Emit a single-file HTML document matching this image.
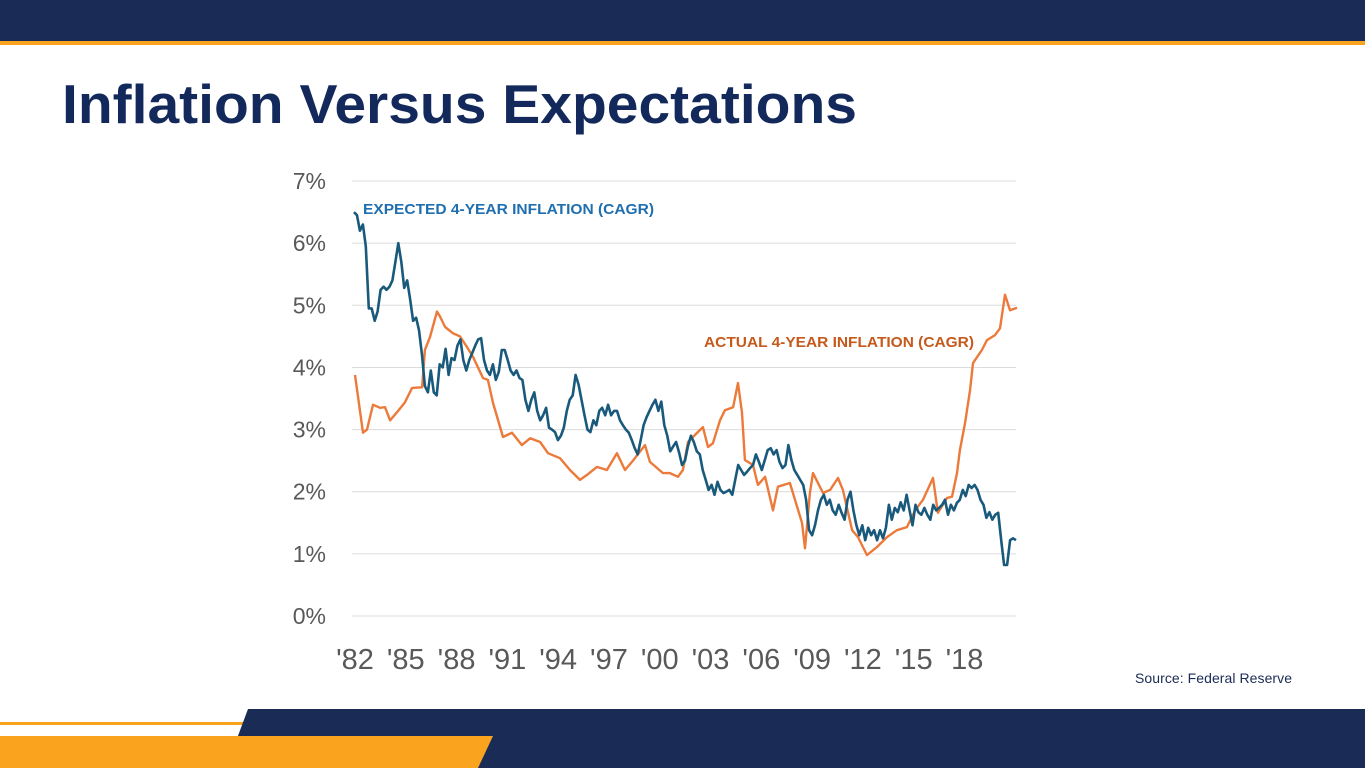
<!DOCTYPE html>
<html><head><meta charset="utf-8"><style>
html,body{margin:0;padding:0;width:1365px;height:768px;overflow:hidden;background:#fff;font-family:"Liberation Sans",sans-serif}
</style></head><body>
<svg width="1365" height="768" viewBox="0 0 1365 768">
<rect x="0" y="0" width="1365" height="41" fill="#1a2b55"/>
<rect x="0" y="41" width="1365" height="4" fill="#f9a31f"/>
<text x="62" y="123" font-size="55" font-weight="bold" fill="#13295b" textLength="795" lengthAdjust="spacingAndGlyphs" font-family="Liberation Sans, sans-serif">Inflation Versus Expectations</text>
<g id="chart"></g>
<text x="1292" y="683" text-anchor="end" font-size="14" fill="#1a2b55" textLength="157">Source: Federal Reserve</text>
<rect x="0" y="722" width="244" height="3" fill="#f9a31f"/>
<polygon points="248,709 1365,709 1365,768 226,768" fill="#1a2b55"/>
<polygon points="0,736 493,736 478,768 0,768" fill="#f9a31f"/>
</svg>
<script>
const yTicks = [0,1,2,3,4,5,6,7];
const yTickLabels = ["0%","1%","2%","3%","4%","5%","6%","7%"];
const xTicks = [1982,1985,1988,1991,1994,1997,2000,2003,2006,2009,2012,2015,2018];
const xTickLabels = ["'82","'85","'88","'91","'94","'97","'00","'03","'06","'09","'12","'15","'18"];
const expStartYear = 1982.0;
const expEndYear = 2021.1;
const expectedValues = [6.5,6.45,6.2,6.3,5.95,4.95,4.95,4.75,4.9,5.25,5.3,5.25,5.3,5.4,5.7,6.0,5.7,5.28,5.4,5.1,4.75,4.8,4.6,4.2,3.7,3.6,3.95,3.6,3.55,4.05,4.0,4.3,3.88,4.15,4.12,4.35,4.45,4.12,3.95,4.12,4.23,4.35,4.45,4.47,4.12,3.95,3.88,4.05,3.8,3.93,4.28,4.28,4.12,3.95,3.88,3.95,3.83,3.8,3.48,3.3,3.48,3.6,3.3,3.15,3.23,3.35,3.03,3.0,2.96,2.83,2.9,3.03,3.3,3.48,3.55,3.88,3.72,3.48,3.23,3.0,2.96,3.15,3.07,3.3,3.35,3.23,3.4,3.23,3.3,3.3,3.15,3.07,3.0,2.95,2.83,2.7,2.6,2.83,3.07,3.2,3.3,3.4,3.48,3.3,3.45,3.07,2.9,2.65,2.73,2.8,2.63,2.43,2.5,2.73,2.9,2.8,2.65,2.6,2.35,2.19,2.03,2.11,1.95,2.16,2.03,1.98,2.0,2.03,1.95,2.19,2.43,2.35,2.27,2.32,2.38,2.43,2.6,2.48,2.35,2.51,2.67,2.7,2.6,2.67,2.48,2.38,2.43,2.75,2.51,2.35,2.27,2.19,2.11,1.87,1.38,1.3,1.46,1.7,1.87,1.95,1.79,1.87,1.7,1.63,1.79,1.66,1.55,1.87,2.0,1.7,1.46,1.3,1.46,1.22,1.42,1.3,1.38,1.22,1.38,1.25,1.42,1.79,1.55,1.74,1.67,1.83,1.7,1.95,1.7,1.46,1.79,1.67,1.63,1.74,1.63,1.55,1.79,1.7,1.74,1.79,1.87,1.63,1.79,1.7,1.82,1.87,2.03,1.93,2.11,2.06,2.11,2.03,1.87,1.79,1.58,1.67,1.55,1.63,1.66,1.22,0.82,0.82,1.22,1.25,1.22];
const actualYears = [1982.06,1982.53,1982.77,1983.12,1983.54,1983.83,1984.13,1984.54,1985.01,1985.43,1986.02,1986.19,1986.49,1986.9,1987.08,1987.38,1987.85,1988.26,1988.67,1989.03,1989.62,1989.91,1990.21,1990.8,1991.33,1991.92,1992.4,1992.99,1993.46,1994.17,1994.76,1995.35,1995.76,1996.35,1996.94,1997.53,1998.01,1998.48,1999.19,1999.48,2000.25,2000.66,2001.14,2001.43,2001.73,2002.02,2002.61,2002.91,2003.2,2003.62,2003.91,2004.39,2004.68,2004.92,2005.09,2005.57,2005.86,2006.28,2006.75,2007.04,2007.75,2008.05,2008.46,2008.64,2008.93,2009.11,2009.7,2010.12,2010.59,2010.88,2011.42,2011.77,2012.3,2012.89,2013.48,2014.07,2014.66,2015.14,2015.61,2016.2,2016.49,2017.03,2017.32,2017.62,2017.79,2018.09,2018.39,2018.56,2019.09,2019.39,2019.86,2020.16,2020.45,2020.75,2021.16];
const actualValues = [3.88,2.95,3.0,3.4,3.35,3.36,3.15,3.28,3.44,3.67,3.68,4.28,4.49,4.9,4.82,4.65,4.55,4.5,4.33,4.17,3.83,3.8,3.43,2.88,2.95,2.75,2.86,2.8,2.62,2.54,2.35,2.19,2.27,2.4,2.35,2.62,2.35,2.5,2.75,2.48,2.3,2.3,2.24,2.35,2.8,2.88,3.04,2.72,2.78,3.15,3.31,3.36,3.75,3.27,2.51,2.43,2.11,2.24,1.7,2.08,2.14,1.87,1.5,1.09,1.98,2.3,1.98,2.03,2.22,2.03,1.38,1.27,0.98,1.11,1.27,1.38,1.43,1.7,1.87,2.22,1.66,1.9,1.92,2.3,2.67,3.1,3.64,4.07,4.28,4.44,4.52,4.63,5.17,4.92,4.96];

const NS = "http://www.w3.org/2000/svg";
const chart = document.getElementById('chart');
const X0 = 354, PXPERYEAR = 16.93, Y0 = 616, PXPERPCT = 62.14;
function xs(yr){ return X0 + (yr - 1982) * PXPERYEAR; }
function ys(v){ return Y0 - v * PXPERPCT; }
function mk(tag, attrs){ const e = document.createElementNS(NS, tag); for (const k in attrs) e.setAttribute(k, attrs[k]); chart.appendChild(e); return e; }

yTicks.forEach((t,i)=>{
  const g = mk('line',{x1:352,x2:1016,y1:ys(t),y2:ys(t),stroke:'#dcdcdc','stroke-width':1});
  
  
  const tx = mk('text',{x:326,y:ys(t)+8,'text-anchor':'end','font-size':23,fill:'#595959'});
  tx.textContent = yTickLabels[i];
  
  
});
xTicks.forEach((t,i)=>{
  const tx = mk('text',{x:xs(t)+1,y:669,'text-anchor':'middle','font-size':29,fill:'#595959'});
  tx.textContent = xTickLabels[i];
  
  
});

const n = expectedValues.length;
const stepY = (expEndYear - expStartYear) / (n - 1);
let dE = '';
expectedValues.forEach((v,i)=>{ dE += (i?'L':'M') + xs(expStartYear + i*stepY).toFixed(1) + ',' + ys(v).toFixed(1); });
let dA = '';
actualValues.forEach((v,i)=>{ dA += (i?'L':'M') + xs(actualYears[i]).toFixed(1) + ',' + ys(v).toFixed(1); });

const pa = mk('path',{d:dA,fill:'none',stroke:'#ec7a3a','stroke-width':2.4,'stroke-linejoin':'round'});


const pe = mk('path',{d:dE,fill:'none',stroke:'#195a7c','stroke-width':2.6,'stroke-linejoin':'round'});



const l1 = mk('text',{x:363,y:214,'font-size':15,'font-weight':'bold',fill:'#1f6fb0',textLength:291,lengthAdjust:'spacingAndGlyphs'});
l1.textContent = 'EXPECTED 4-YEAR INFLATION (CAGR)';


const l2 = mk('text',{x:704,y:347,'font-size':15,'font-weight':'bold',fill:'#c55a1c',textLength:270,lengthAdjust:'spacingAndGlyphs'});
l2.textContent = 'ACTUAL 4-YEAR INFLATION (CAGR)';


</script>
</body></html>
